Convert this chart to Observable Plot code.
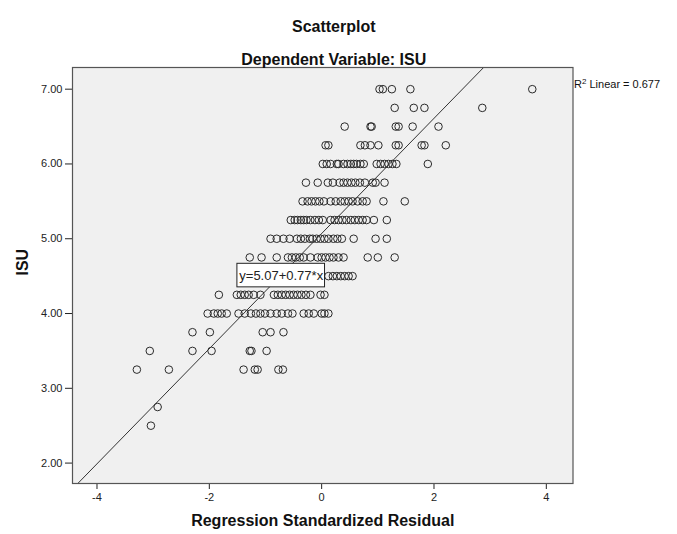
<!DOCTYPE html>
<html><head><meta charset="utf-8">
<script src="https://cdn.jsdelivr.net/npm/d3@7"></script>
<script src="https://cdn.jsdelivr.net/npm/@observablehq/plot@0.6"></script>
<style>body{margin:0;background:#fff;}</style>
</head><body><div id="chart"></div>
<script>
// ISU levels (y) and the regression standardized residuals (x) read at each level
const isuLevels = [7.00, 6.75, 6.50, 6.25, 6.00, 5.75, 5.50, 5.25, 5.00, 4.75, 4.50, 4.25, 4.00, 3.75, 3.50, 3.25, 2.75, 2.50];
const residualsByLevel = [
  [1.03, 1.09, 1.25, 1.58, 3.75],
  [1.30, 1.64, 1.83, 2.86],
  [0.41, 0.87, 0.89, 1.32, 1.37, 1.62, 2.08],
  [0.07, 0.12, 0.69, 0.77, 0.87, 1.01, 1.32, 1.37, 1.78, 1.83, 2.21],
  [0.02, 0.09, 0.16, 0.27, 0.30, 0.39, 0.46, 0.52, 0.57, 0.62, 0.69, 0.75, 0.98, 1.05, 1.12, 1.19, 1.26, 1.33, 1.89],
  [-0.28, -0.07, 0.11, 0.20, 0.32, 0.39, 0.46, 0.53, 0.60, 0.68, 0.77, 0.91, 0.96, 1.12],
  [-0.34, -0.25, -0.18, -0.11, -0.04, 0.04, 0.16, 0.25, 0.34, 0.41, 0.48, 0.55, 0.64, 0.73, 0.80, 1.10, 1.48],
  [-0.55, -0.48, -0.43, -0.37, -0.32, -0.27, -0.20, -0.12, -0.05, 0.02, 0.16, 0.23, 0.30, 0.37, 0.44, 0.52, 0.59, 0.66, 0.73, 0.80, 0.93, 1.16],
  [-0.91, -0.80, -0.68, -0.57, -0.44, -0.37, -0.30, -0.21, -0.16, -0.09, -0.02, 0.05, 0.12, 0.21, 0.28, 0.36, 0.57, 0.96, 1.16],
  [-1.28, -1.07, -0.80, -0.60, -0.53, -0.46, -0.39, -0.32, -0.20, -0.07, 0.00, 0.07, 0.14, 0.21, 0.30, 0.39, 0.82, 1.00, 1.30],
  [0.12, 0.20, 0.27, 0.34, 0.41, 0.48, 0.55],
  [-1.83, -1.51, -1.44, -1.37, -1.30, -1.21, -1.09, -0.85, -0.78, -0.71, -0.64, -0.57, -0.50, -0.43, -0.36, -0.28, -0.20, -0.02, 0.05],
  [-2.03, -1.92, -1.85, -1.78, -1.69, -1.48, -1.37, -1.26, -1.17, -1.09, -1.01, -0.91, -0.80, -0.71, -0.60, -0.52, -0.32, -0.23, -0.14, 0.00, 0.05, 0.12],
  [-2.30, -1.99, -1.05, -0.91, -0.68],
  [-3.06, -2.30, -1.96, -1.28, -1.25, -0.98],
  [-3.29, -2.72, -1.39, -1.19, -1.14, -0.77, -0.69],
  [-2.92],
  [-3.04]
];
const xTicks = [-4, -2, 0, 2, 4];
const yTicks = [2, 3, 4, 5, 6, 7];
const intercept = 5.07, slope = 0.77, rSquared = 0.677;
const xDomain = [-4.436, 4.475];
const yDomain = [1.727, 7.29];

const data = isuLevels.flatMap((v, i) => residualsByLevel[i].map(r => ({residual: r, isu: v})));
const xLo = Math.max(xDomain[0], (yDomain[0] - intercept) / slope);
const xHi = Math.min(xDomain[1], (yDomain[1] - intercept) / slope);
const fitLine = [xLo, xHi].map(x => ({residual: x, isu: intercept + slope * x}));
const eqLabel = {x1: -1.50, x2: 0.06, y1: 4.35, y2: 4.665, text: `y=${intercept.toFixed(2)}+${slope.toFixed(2)}*x`};

const font = "'Liberation Sans', Arial, sans-serif";
const chart = Plot.plot({
  width: 677, height: 534,
  marginLeft: 72, marginRight: 104.5, marginTop: 67, marginBottom: 51,
  style: {fontFamily: font, fontSize: "11px", color: "#222", background: "transparent", overflow: "visible"},
  x: {domain: xDomain, ticks: xTicks, tickFormat: d => String(d), tickSize: 6, tickPadding: 4, label: null},
  y: {domain: yDomain, ticks: yTicks, tickFormat: d3.format(".2f"), tickSize: 7, tickPadding: 3, label: null},
  marks: [
    Plot.frame({fill: "#f0f0f0"}),
    Plot.dot(data, {x: "residual", y: "isu", r: 3.8, stroke: "#2b2b2b", strokeWidth: 1, fill: "none"}),
    Plot.line(fitLine, {x: "residual", y: "isu", stroke: "#333", strokeWidth: 1}),
    Plot.rect([eqLabel], {x1: "x1", x2: "x2", y1: "y1", y2: "y2", fill: "white", stroke: "#222", strokeWidth: 1}),
    Plot.text([eqLabel], {x: d => (d.x1 + d.x2) / 2, y: d => (d.y1 + d.y2) / 2, text: "text", fontSize: 13, fill: "#222"}),
    Plot.frame({stroke: "#555", strokeWidth: 1.2}),
    Plot.text(["Scatterplot"], {text: d => d, frameAnchor: "top", dx: 11, dy: -47, fontSize: 16, fontWeight: "bold", fill: "#111"}),
    Plot.text(["Dependent Variable: ISU"], {text: d => d, frameAnchor: "top", dx: 11, dy: -14, fontSize: 16, fontWeight: "bold", fill: "#111"}),
    Plot.text(["Regression Standardized Residual"], {text: d => d, frameAnchor: "bottom", dy: 42, fontSize: 16, fontWeight: "bold", fill: "#111"}),
    Plot.text(["ISU"], {text: d => d, frameAnchor: "left", dx: -50, rotate: -90, fontSize: 16, fontWeight: "bold", fill: "#111"}),
    Plot.text([`R2 Linear = ${rSquared}`], {text: d => d, frameAnchor: "top-right", dx: 1, dy: 13, textAnchor: "start", fontSize: 11, fill: "#111", className: "r2label"})
  ]
});
document.getElementById("chart").append(chart);
// render the "2" of R2 as a superscript
const r2 = chart.querySelector(".r2label text");
if (r2) {
  const full = r2.textContent;
  const ns = "http://www.w3.org/2000/svg";
  r2.textContent = "";
  const a = document.createElementNS(ns, "tspan"); a.textContent = full.slice(0, 1);
  const b = document.createElementNS(ns, "tspan"); b.textContent = full.slice(1, 2);
  b.setAttribute("font-size", "8"); b.setAttribute("dy", "-4");
  const c = document.createElementNS(ns, "tspan"); c.textContent = full.slice(2);
  c.setAttribute("dy", "4");
  r2.append(a, b, c);
}
</script>
</body></html>
